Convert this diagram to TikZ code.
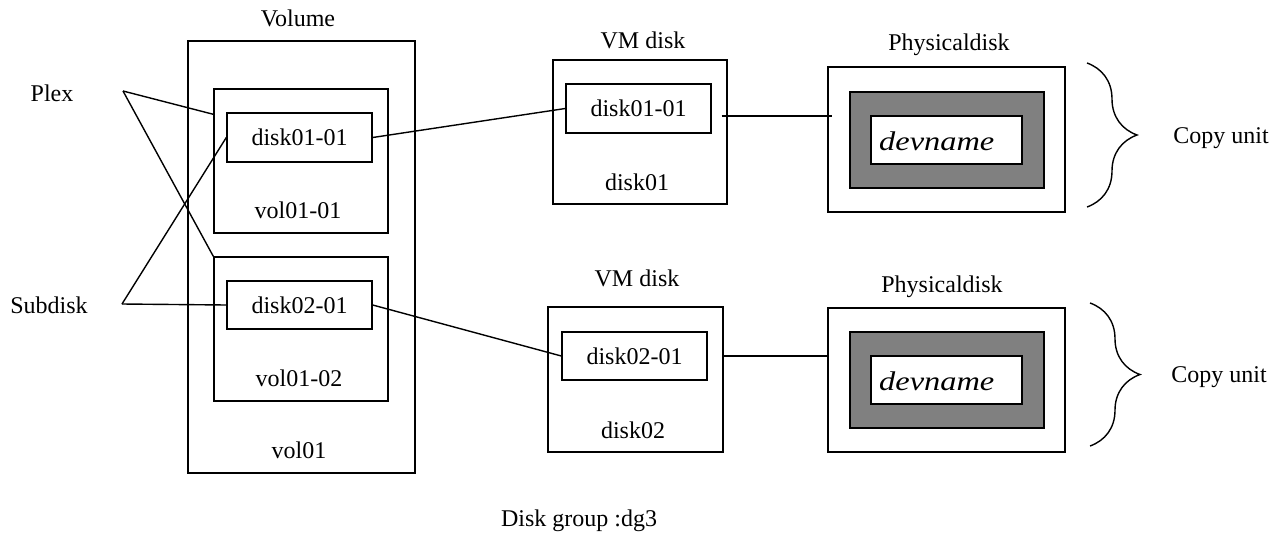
\documentclass[tikz,border=0pt]{standalone}
\usepackage{fontspec}
\setmainfont{Liberation Serif}
\usetikzlibrary{decorations.pathreplacing}
\newcommand{\devtext}{\scalebox{1.2}[1]{devname}}
\begin{document}
\begin{tikzpicture}[x=1pt,y=-1pt,
  every node/.style={font=\fontsize{24}{28}\selectfont},
  box/.style={draw, line width=1.4pt, inner sep=0pt, minimum width=#1},
  conn/.style={line width=1.4pt},
  lbl/.style={inner sep=0pt},
  greybox/.style={draw, line width=1.4pt, fill=black!50, inner sep=0pt},
  whitebox/.style={draw, line width=1.4pt, fill=white, inner sep=0pt},
  devstyle/.style={inner sep=0pt, anchor=west, font=\fontsize{27}{30}\selectfont\itshape},
  cbrace/.style={line width=1.4pt, decorate, decoration={brace, amplitude=50pt}}]
\useasboundingbox (0,0) rectangle (1288,536);
% Volume
\node[box=227pt, minimum height=432pt] (vol) at (301.5,257) {};
\node[box=174pt, minimum height=144pt] (plex1) at (301,161) {};
\node[box=145pt, minimum height=49pt] (sd1) at (299.5,137.5) {disk01-01};
\node[box=174pt, minimum height=144pt] (plex2) at (301,329) {};
\node[box=145pt, minimum height=48pt] (sd2) at (299.5,305) {disk02-01};
\node[lbl] (volt) at (298,18) {Volume};
\node[lbl] (p1t) at (298,210) {vol01-01};
\node[lbl] (p2t) at (299,378) {vol01-02};
\node[lbl] (volb) at (299,450) {vol01};
% left labels
\node[lbl] (plext) at (52,93) {Plex};
\node[lbl] (subt) at (49,305) {Subdisk};
\coordinate (plexc) at (123,91);
\coordinate (subc) at (122,304);
\draw[conn] (plexc) -- ([yshift=-26pt]plex1.north west);
\draw[conn] (plexc) -- (plex2.north west);
\draw[conn] (subc) -- (sd1.west);
\draw[conn] (subc) -- (sd2.west);
% VM disks
\node[box=174pt, minimum height=144pt] (vm1) at (640,132) {};
\node[box=145pt, minimum height=49pt] (vm1in) at (638.5,108.5) {disk01-01};
\node[lbl] (vm1t) at (643,40) {VM disk};
\node[lbl] (vm1b) at (637,182) {disk01};
\node[box=175pt, minimum height=145pt] (vm2) at (635.5,379.5) {};
\node[box=145pt, minimum height=48pt] (vm2in) at (634.5,356) {disk02-01};
\node[lbl] (vm2t) at (637,278) {VM disk};
\node[lbl] (vm2b) at (633,430) {disk02};
\draw[conn] (sd1.east) -- (vm1in.west);
\draw[conn] (sd2.east) -- (vm2in.west);
% Physical disks
\node[box=237pt, minimum height=145pt] (pd1) at (946.5,139.5) {};
\node[greybox, minimum width=194pt, minimum height=96pt] (pd1g) at (947,140) {};
\node[whitebox, minimum width=151pt, minimum height=48pt] (pd1w) at (946.5,140) {};
\node[devstyle] (dev1) at (879,141) {\devtext};
\node[lbl] (pd1t) at (949,45) {Physicaldisk};
\node[box=237pt, minimum height=144pt] (pd2) at (946.5,380) {};
\node[greybox, minimum width=194pt, minimum height=96pt] (pd2g) at (947,380) {};
\node[whitebox, minimum width=151pt, minimum height=48pt] (pd2w) at (946.5,380) {};
\node[devstyle] (dev2) at (879,381) {\devtext};
\node[lbl] (pd2t) at (942,287) {Physicaldisk};
\coordinate (a1) at ([xshift=10pt,yshift=-7.5pt]vm1in.east);
\draw[conn] (a1) -- ([xshift=5pt]a1 -| pd1.west);
\coordinate (a2) at ([xshift=15pt]vm2in.east);
\draw[conn] (a2) -- (a2 -| pd2.west);
% braces
\coordinate (b1t) at (1087,63);
\coordinate (b1b) at (1087,207);
\draw[cbrace] (b1t) -- (b1b);
\coordinate (b2t) at (1090,303);
\coordinate (b2b) at (1090,446);
\draw[cbrace] (b2t) -- (b2b);
\node[lbl] (cu1) at (1221,138) {Copy unit};
\node[lbl] (cu2) at (1219,377) {Copy unit};
% bottom
\node[lbl] (dg) at (579,521) {Disk group :dg3};
\end{tikzpicture}
\end{document}
